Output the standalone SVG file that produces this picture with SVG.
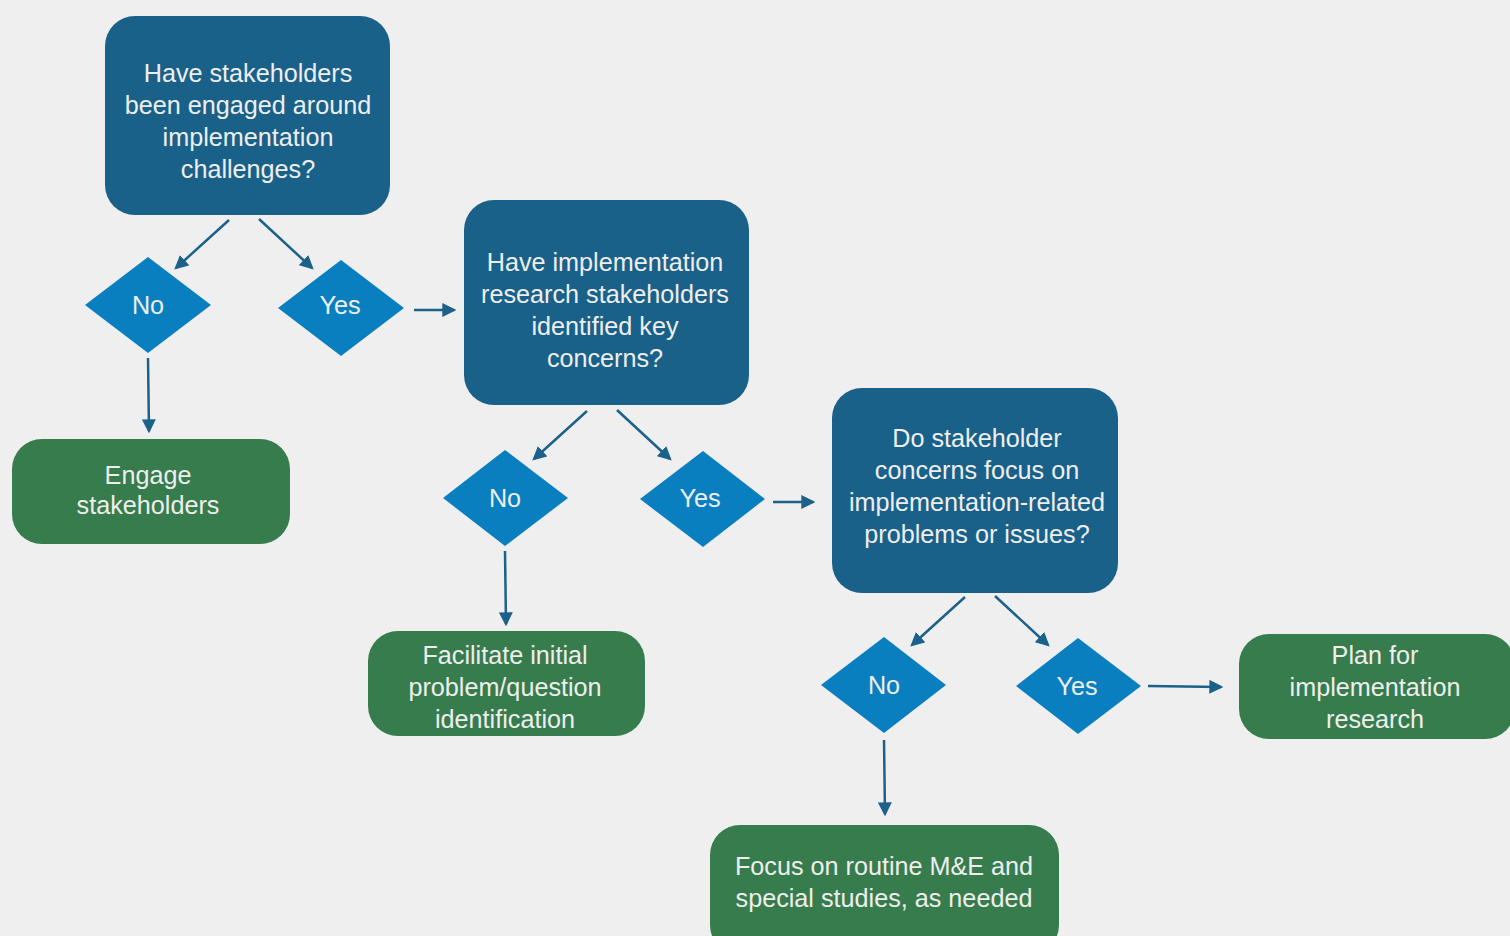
<svg xmlns="http://www.w3.org/2000/svg" width="1510" height="936" viewBox="0 0 1510 936">
<defs>
<marker id="ah" viewBox="0 0 12 12" refX="10" refY="6" markerWidth="14" markerHeight="14" markerUnits="userSpaceOnUse" orient="auto">
<path d="M0,0 L12,6 L0,12 Z" fill="#1b6189"/>
</marker>
<style>
.q{fill:#1a6189}
.d{fill:#0a7fc0}
.g{fill:#377c4d}
text{font-family:"Liberation Sans",Arial,sans-serif;font-size:25.2px;fill:#eeeeee;text-anchor:middle;dominant-baseline:central}
.c line{stroke:#1b6189;stroke-width:2.5;marker-end:url(#ah)}
</style>
</defs>
<rect width="1510" height="936" fill="#efefef"/>
<g id="q1"><rect class="q" x="105" y="16" width="285" height="199" rx="30"/>
<text x="248" y="73">Have stakeholders</text><text x="248" y="105">been engaged around</text><text x="248" y="137">implementation</text><text x="248" y="169">challenges?</text></g>
<g id="no1"><polygon class="d" points="148,257 211,305 148,353 85,305"/><text x="148" y="305">No</text></g>
<g id="yes1"><polygon class="d" points="341,260 404,308 341,356 278,308"/><text x="340" y="305">Yes</text></g>
<g id="engage"><rect class="g" x="12" y="439" width="278" height="105" rx="30"/><text x="148" y="475">Engage</text><text x="148" y="505">stakeholders</text></g>
<g id="q2"><rect class="q" x="464" y="200" width="285" height="205" rx="30"/>
<text x="605" y="262">Have implementation</text><text x="605" y="294">research stakeholders</text><text x="605" y="326">identified key</text><text x="605" y="358">concerns?</text></g>
<g id="no2"><polygon class="d" points="505,450 568,498 505,546 443,498"/><text x="505" y="498">No</text></g>
<g id="yes2"><polygon class="d" points="703,451 765,499 703,547 640,499"/><text x="700" y="498">Yes</text></g>
<g id="facilitate"><rect class="g" x="368" y="631" width="277" height="105" rx="30"/><text x="505" y="655">Facilitate initial</text><text x="505" y="687">problem/question</text><text x="505" y="719">identification</text></g>
<g id="q3"><rect class="q" x="832" y="388" width="286" height="205" rx="30"/>
<text x="977" y="438">Do stakeholder</text><text x="977" y="470">concerns focus on</text><text x="977" y="502">implementation-related</text><text x="977" y="534">problems or issues?</text></g>
<g id="no3"><polygon class="d" points="884,637 946,685 884,733 821,685"/><text x="884" y="685">No</text></g>
<g id="yes3"><polygon class="d" points="1078,638 1141,686 1078,734 1016,686"/><text x="1077" y="686">Yes</text></g>
<g id="plan"><rect class="g" x="1239" y="634" width="276" height="105" rx="30"/><text x="1375" y="655">Plan for</text><text x="1375" y="687">implementation</text><text x="1375" y="719">research</text></g>
<g id="focus"><rect class="g" x="710" y="825" width="349" height="130" rx="30"/><text x="884" y="866">Focus on routine M&amp;E and</text><text x="884" y="898">special studies, as needed</text></g>
<g class="c" id="connectors">
<line x1="229" y1="220" x2="176" y2="268"/>
<line x1="259" y1="219" x2="312" y2="268"/>
<line x1="414" y1="310" x2="454" y2="310"/>
<line x1="148" y1="358" x2="149" y2="431"/>
<line x1="587" y1="411" x2="534" y2="459"/>
<line x1="617" y1="410" x2="670" y2="459"/>
<line x1="773" y1="502" x2="813" y2="502"/>
<line x1="505" y1="551" x2="506" y2="624"/>
<line x1="965" y1="597" x2="912" y2="645"/>
<line x1="995" y1="596" x2="1048" y2="645"/>
<line x1="1148" y1="686" x2="1221" y2="687"/>
<line x1="884" y1="740" x2="885" y2="814"/>
</g>
</svg>
